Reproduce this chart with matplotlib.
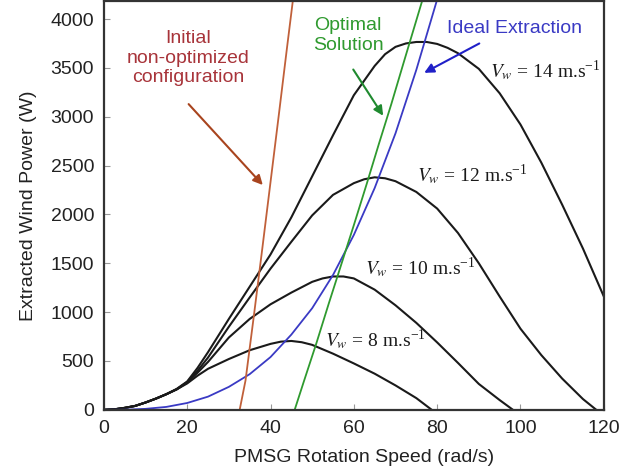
import matplotlib
matplotlib.use('Agg')
import matplotlib.pyplot as plt

plt.rcParams['font.family'] = ['Liberation Sans', 'DejaVu Sans']
plt.rcParams['mathtext.fontset'] = 'stix'

# power curves for each wind speed (rad/s, W)
w8 = [0, 2.5, 5, 7.5, 10, 12.5, 15, 17.5, 20, 22.5, 25, 30, 35, 40, 42.5, 45, 47.5, 50,
      55, 60, 65, 70, 75, 78.7]
p8 = [0, 5, 20, 40, 75, 115, 160, 210, 270, 350, 420, 520, 610, 675, 698, 705, 692, 665,
      575, 475, 370, 250, 120, 0]

w10 = [0, 2.5, 5, 7.5, 10, 12.5, 15, 17.5, 20, 22.5, 25, 30, 35, 40, 45, 50, 52.5, 55,
       57.5, 60, 65, 70, 75, 80, 85, 90, 95, 98.2]
p10 = [0, 5, 20, 40, 75, 115, 160, 210, 280, 380, 490, 740, 930, 1080, 1200, 1310, 1345,
       1365, 1365, 1345, 1230, 1070, 890, 690, 480, 265, 100, 0]

w12 = [0, 2.5, 5, 7.5, 10, 12.5, 15, 17.5, 20, 22.5, 25, 30, 35, 40, 45, 50, 55, 60, 62.5,
       65, 67.5, 70, 75, 80, 85, 90, 95, 100, 105, 110, 115, 118.2]
p12 = [0, 5, 20, 40, 75, 115, 160, 210, 285, 400, 535, 850, 1150, 1445, 1720, 1990, 2200,
       2320, 2360, 2380, 2370, 2340, 2230, 2060, 1810, 1500, 1160, 830, 560, 320, 110, 0]

w14 = [0, 2.5, 5, 7.5, 10, 12.5, 15, 17.5, 20, 22.5, 25, 30, 35, 40, 45, 50, 55, 60, 65,
       67.5, 70, 72.5, 75, 77.5, 80, 82.5, 85, 90, 95, 100, 105, 110, 115, 120]
p14 = [0, 5, 20, 40, 75, 115, 160, 215, 290, 430, 590, 930, 1260, 1590, 1970, 2390, 2810,
       3220, 3520, 3640, 3715, 3750, 3765, 3765, 3745, 3705, 3650, 3490, 3240, 2920, 2530,
       2100, 1650, 1160]

# operating curves
w_ideal = [0, 5, 10, 15, 20, 25, 30, 35, 40, 45, 50, 55, 60, 65, 70, 75, 80]
p_ideal = [0, 1, 10, 30, 70, 135, 235, 365, 540, 770, 1040, 1380, 1790, 2270, 2830, 3480, 4200]

w_opt = [45.8, 48, 51, 54, 57, 60, 63, 66, 69, 72, 76.5]
p_opt = [0, 290, 680, 1090, 1490, 1890, 2300, 2720, 3130, 3560, 4200]

w_init = [32.6, 34, 36, 38, 40, 42, 44, 45.4]
p_init = [0, 300, 960, 1640, 2330, 3020, 3720, 4200]

speeds = [8, 10, 12, 14]
label_pos = [(53, 716), (62.6, 1452), (75.1, 2403), (92.6, 3476)]

fig = plt.figure(figsize=(6.41, 4.76), dpi=100)
ax = fig.add_axes([0.162, 0.139, 0.780, 0.858])

for w, p in [(w8, p8), (w10, p10), (w12, p12), (w14, p14)]:
    ax.plot(w, p, color='#1a1a1a', lw=1.5)

ax.plot(w_ideal, p_ideal, color='#3a3ac4', lw=1.3)
ax.plot(w_opt, p_opt, color='#2f9a2f', lw=1.3)
ax.plot(w_init, p_init, color='#c0603a', lw=1.3)

for v, (tx, ty) in zip(speeds, label_pos):
    ax.text(tx, ty, r'$V_w$ = %d m.s$^{\mathregular{-1}}$' % v, fontsize=14,
            family='Liberation Serif', ha='left', va='center', color='#1a1a1a')

# annotations
ax.text(20.2, 3600, 'Initial\nnon-optimized\nconfiguration', color='#a8343a',
        fontsize=14, ha='center', va='center')
ax.annotate('', xy=(38.6, 2280), xytext=(19.9, 3150),
            arrowprops=dict(arrowstyle='-|>', color='#a8441e', lw=1.5, mutation_scale=14))

ax.text(58.6, 3834, 'Optimal\nSolution', color='#2f9a2f', fontsize=14,
        ha='center', va='center')
ax.annotate('', xy=(67.4, 2986), xytext=(59.5, 3507),
            arrowprops=dict(arrowstyle='-|>', color='#1f8a2f', lw=1.5, mutation_scale=14))

ax.text(98.6, 3906, 'Ideal Extraction', color='#3a3ac4', fontsize=14,
        ha='center', va='center')
ax.annotate('', xy=(76.3, 3436), xytext=(90.7, 3763),
            arrowprops=dict(arrowstyle='-|>', color='#2020c8', lw=1.5, mutation_scale=14))

ax.set_xlim(0, 120)
ax.set_ylim(0, 4180)
ax.set_xticks([0, 20, 40, 60, 80, 100, 120])
ax.set_yticks([0, 500, 1000, 1500, 2000, 2500, 3000, 3500, 4000])
ax.tick_params(direction='in', length=4, width=0.8, color='#999999',
               labelsize=14, labelcolor='#222222', pad=7)

for s in ax.spines.values():
    s.set_linewidth(1.6)
    s.set_color('#333333')

ax.set_xlabel('PMSG Rotation Speed (rad/s)', fontsize=14, color='#222222', labelpad=8)
ax.set_ylabel('Extracted Wind Power (W)', fontsize=14, color='#222222', labelpad=10)
ax.xaxis.set_label_coords(0.52, -0.095)

fig.savefig('out.png', dpi=100)
